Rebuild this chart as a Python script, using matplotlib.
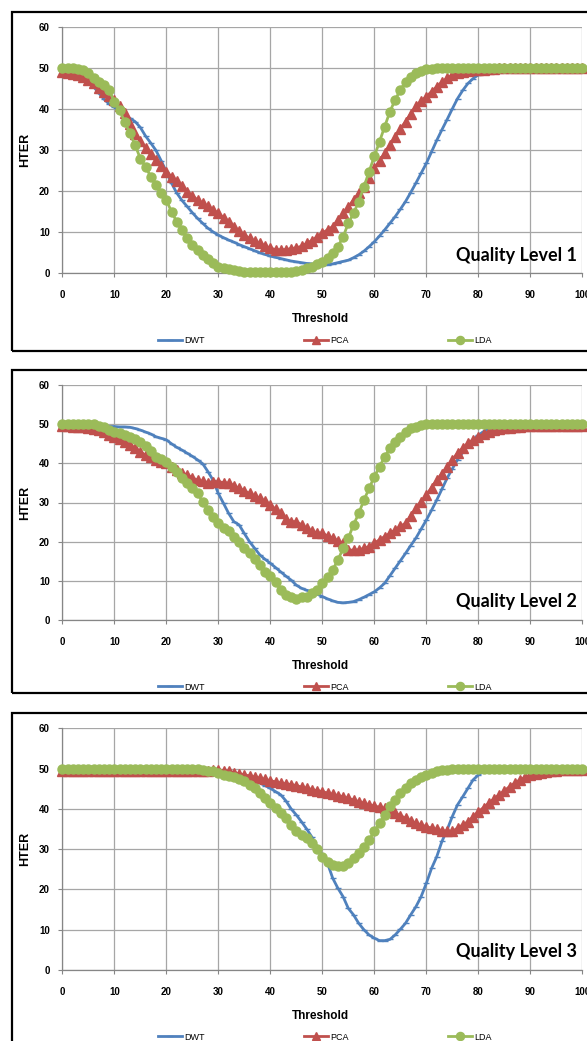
import matplotlib
matplotlib.use("Agg")
import matplotlib.pyplot as plt
from matplotlib.patches import Rectangle
import numpy as np

# threshold values 0..100
threshold = list(range(101))

# Quality level 1
dwt_q1 = [49.0, 48.8, 48.4, 47.9, 47.3, 46.7, 45.5, 44.0, 42.5, 41.3,
          40.5, 39.5, 38.6, 37.8, 37.0, 35.6, 33.5, 31.8, 30.0, 27.5,
          24.8, 22.0, 19.6, 17.8, 16.3, 14.8, 13.4, 12.2, 11.0, 10.1,
          9.3, 8.7, 8.1, 7.6, 7.0, 6.5, 6.0, 5.5, 5.0, 4.6,
          4.2, 3.9, 3.6, 3.3, 3.0, 2.8, 2.6, 2.4, 2.3, 2.1,
          2.0, 2.1, 2.3, 2.6, 2.9, 3.2, 3.8, 4.5, 5.4, 6.5,
          7.7, 9.1, 10.6, 12.2, 13.8, 15.6, 17.5, 19.7, 22.0, 24.4,
          26.8, 29.6, 32.4, 35.0, 37.5, 40.1, 42.6, 44.6, 46.3, 47.5,
          48.4, 49.1, 49.6, 49.8] + [50.0] * 17
pca_q1 = [49.0, 48.9, 48.7, 48.4, 47.9, 47.2, 46.3, 45.3, 44.3, 43.3,
          42.3, 40.8, 39.0, 36.5, 34.0, 32.2, 30.5, 29.0, 27.6, 26.2,
          24.8, 23.6, 22.4, 21.2, 19.9, 18.9, 17.9, 17.1, 16.3, 15.5,
          14.6, 13.6, 12.6, 11.4, 10.2, 9.3, 8.5, 7.9, 7.3, 6.7,
          6.1, 5.8, 5.7, 5.8, 6.0, 6.2, 6.6, 7.3, 8.0, 8.9,
          9.8, 10.6, 11.4, 13.0, 14.6, 16.2, 17.9, 19.5, 21.1, 23.3,
          25.6, 27.4, 29.3, 31.3, 33.3, 35.2, 37.0, 38.9, 40.7, 42.0,
          43.1, 44.3, 45.5, 46.6, 47.6, 48.3, 48.8, 49.1, 49.3, 49.5,
          49.6, 49.7, 49.8, 49.9] + [50.0] * 17
lda_q1 = [50.0, 50.0, 50.0, 49.9, 49.5, 48.8, 47.6, 46.7, 45.9, 44.7,
          41.9, 39.8, 37.0, 34.1, 31.3, 28.0, 26.0, 23.6, 21.5, 19.5,
          17.9, 15.0, 12.6, 10.6, 8.5, 6.9, 5.7, 4.5, 3.4, 2.4,
          1.6, 1.2, 1.0, 0.8, 0.6, 0.4, 0.3, 0.25, 0.2, 0.2,
          0.2, 0.2, 0.25, 0.3, 0.4, 0.5, 0.8, 1.2, 1.6, 2.2,
          2.8, 3.8, 4.9, 6.5, 8.9, 12.2, 14.6, 17.5, 21.1, 24.8,
          28.5, 32.1, 35.8, 39.4, 42.3, 44.7, 46.7, 48.0, 48.8, 49.4,
          49.8, 49.9] + [50.0] * 29

# Quality level 2
dwt_q2 = [49.5, 49.5, 49.5, 49.5, 49.5, 49.6, 49.6, 49.5, 49.5, 49.4,
          49.4, 49.3, 49.3, 49.2, 48.9, 48.5, 48.0, 47.5, 46.8, 46.4,
          46.0, 45.0, 44.1, 43.4, 42.6, 41.8, 40.9, 39.9, 37.9, 35.7,
          32.3, 29.8, 27.2, 25.1, 24.3, 22.1, 20.0, 18.3, 16.6, 15.5,
          14.5, 13.4, 12.3, 11.2, 10.2, 8.9, 8.1, 7.6, 7.2, 6.6,
          6.0, 5.4, 4.9, 4.5, 4.4, 4.5, 4.7, 5.2, 5.8, 6.5,
          7.2, 8.2, 9.4, 11.3, 13.2, 15.1, 17.0, 19.0, 20.9, 23.2,
          25.5, 28.0, 30.6, 33.4, 36.2, 38.6, 40.9, 42.8, 44.7, 46.0,
          47.2, 48.1, 48.9, 49.4, 49.8] + [50.0] * 16
pca_q2 = [49.5, 49.5, 49.4, 49.4, 49.2, 48.9, 48.7, 48.5, 47.9, 47.2,
          46.8, 46.1, 45.5, 44.6, 43.8, 42.9, 42.1, 41.5, 40.9, 40.4,
          40.0, 39.1, 38.3, 37.6, 37.0, 36.3, 35.7, 35.4, 35.1, 35.2,
          35.3, 35.1, 34.9, 34.3, 33.6, 33.0, 32.3, 31.7, 31.1, 30.3,
          29.4, 28.3, 27.2, 25.7, 25.1, 25.1, 24.3, 23.4, 22.6, 22.3,
          22.1, 21.5, 20.9, 20.2, 19.6, 17.9, 17.8, 17.9, 18.3, 18.7,
          19.6, 20.5, 21.3, 22.1, 23.0, 23.9, 24.7, 26.6, 28.5, 30.2,
          31.9, 33.8, 35.7, 37.4, 39.1, 40.9, 42.6, 43.9, 45.1, 46.0,
          46.8, 47.5, 48.1, 48.5, 48.8, 49.0, 49.1, 49.3, 49.4] + [49.5] * 12
lda_q2 = [50.0, 50.0, 50.0, 50.0, 50.0, 50.0, 50.0, 49.6, 49.4, 48.5,
          48.1, 47.7, 47.2, 46.8, 46.2, 45.5, 44.3, 43.2, 41.7, 41.1,
          40.4, 39.1, 37.9, 36.2, 34.9, 33.6, 32.3, 30.2, 28.1, 26.4,
          24.7, 23.4, 22.6, 21.3, 20.0, 18.3, 17.0, 15.7, 14.0, 12.3,
          11.2, 9.8, 7.7, 6.4, 6.0, 5.3, 6.0, 6.0, 6.8, 7.7,
          9.4, 11.1, 12.8, 15.3, 18.3, 20.9, 24.3, 27.2, 30.6, 33.6,
          36.6, 39.1, 41.7, 43.8, 45.5, 46.8, 48.1, 48.9, 49.4, 49.7] + [50.0] * 31

# Quality level 3
dwt_q3 = [50.0] * 26 + [
          49.9, 49.8, 49.7, 49.6,
          49.4, 49.2, 49.0, 48.7, 48.3, 48.0, 47.6, 47.0, 46.4, 45.8,
          45.1, 44.3, 43.5, 42.0, 40.0, 38.5, 36.8, 35.0, 33.0, 30.6,
          28.5, 26.5, 22.8, 20.3, 18.2, 15.3, 13.7, 11.6, 10.0, 8.7,
          7.9, 7.3, 7.3, 7.6, 8.7, 10.1, 11.6, 13.7, 15.7, 18.2,
          21.5, 25.2, 28.1, 31.9, 34.8, 38.1, 41.0, 43.0, 45.1, 47.2,
          48.4, 49.3, 49.8] + [50.0] * 18
pca_q3 = [49.5] * 29 + [
          49.6,
          49.7, 49.5, 49.3, 49.0, 48.7, 48.4, 48.2, 47.9, 47.6, 47.3,
          47.0, 46.7, 46.4, 46.2, 46.0, 45.8, 45.4, 45.1, 44.8, 44.5,
          44.3, 43.9, 43.6, 43.3, 43.0, 42.6, 42.2, 41.8, 41.4, 41.0,
          40.7, 40.4, 40.1, 39.5, 38.9, 38.3, 37.7, 37.0, 36.4, 36.0,
          35.6, 35.2, 34.9, 34.6, 34.4, 34.4, 35.2, 36.0, 36.8, 38.0,
          39.3, 40.3, 41.4, 42.5, 43.5, 44.5, 45.5, 46.4, 47.2, 47.8,
          48.4, 48.7, 49.0, 49.2, 49.4, 49.5] + [49.7] * 5
lda_q3 = [50.0] * 26 + [
          49.9, 49.7, 49.5, 49.3,
          48.9, 48.4, 48.1, 47.8, 47.3, 46.8, 45.9, 45.1, 43.9, 42.6,
          41.4, 40.1, 38.9, 37.7, 36.0, 34.6, 33.5, 32.7, 31.5, 30.0,
          28.1, 26.7, 26.1, 25.7, 25.7, 26.5, 27.7, 29.0, 30.6, 32.3,
          34.4, 36.4, 38.5, 40.6, 42.2, 43.9, 45.1, 46.4, 47.2, 47.8,
          48.4, 49.0, 49.4, 49.6, 49.7, 49.8, 49.8, 49.8, 49.8, 49.8] + [50.0] * 21

labels = ["DWT", "PCA", "LDA"]
panel_titles = ["Quality Level 1", "Quality Level 2", "Quality Level 3"]
yticks = [0, 10, 20, 30, 40, 50, 60]
xticks = [0, 10, 20, 30, 40, 50, 60, 70, 80, 90, 100]

W, H = 587, 1041
fig = plt.figure(figsize=(W / 100, H / 100), dpi=100)
fig.patch.set_facecolor("white")


def fx(px):
    return px / W


def fy(py):
    return 1 - py / H


def draw_panel(box_top, box_bot, y60, y0, dwt, pca, lda, title):
    # outer chart border (runs off the right edge like the original crop)
    fig.add_artist(Rectangle((fx(12), fy(box_bot)), fx(W + 20), fy(box_top) - fy(box_bot),
                             transform=fig.transFigure, fill=False,
                             edgecolor="black", lw=1.6, zorder=0))
    left, right = 62.3, 582.3
    ax = fig.add_axes([fx(left), fy(y0), fx(right - left), (y0 - y60) / H])
    ax.plot(threshold, dwt, color="#4F81BD", lw=2.0, marker="_", ms=5, mew=1.0,
            label=labels[0], clip_on=False, zorder=3)
    ax.plot(threshold, pca, color="#C0504D", lw=2.0, marker="^", ms=6.5,
            label=labels[1], clip_on=False, zorder=4)
    ax.plot(threshold, lda, color="#9BBB59", lw=2.0, marker="o", ms=6.5,
            label=labels[2], clip_on=False, zorder=5)
    ax.set_xlim(0, 100)
    ax.set_ylim(0, 60)
    ax.set_xticks(xticks)
    ax.set_yticks(yticks)
    ax.grid(True, color="#a6a6a6", lw=0.9)
    ax.set_axisbelow(True)
    for s in ["top", "right"]:
        ax.spines[s].set_visible(False)
    for s in ["left", "bottom"]:
        ax.spines[s].set_color("#868686")
        ax.spines[s].set_linewidth(0.9)
    ax.tick_params(axis="both", length=3, color="#868686", labelsize=7)
    ax.tick_params(axis="x", pad=9)
    ax.tick_params(axis="y", pad=6)
    for t in ax.get_xticklabels() + ax.get_yticklabels():
        t.set_fontweight("bold")
        t.set_family("Liberation Sans")
    fig.text(fx(25), fy((y60 + y0) / 2), "HTER", rotation=90, ha="center", va="center",
             fontsize=9, fontweight="bold", family="Liberation Sans")
    fig.text(fx(320), fy(y0 + 46), "Threshold", ha="center", va="center",
             fontsize=8.5, fontweight="bold", family="Liberation Sans")
    fig.text(fx(577), fy(y0 - 18), title, ha="right", va="center",
             fontsize=13, fontweight="bold", family=["Liberation Sans Narrow", "Lato"])
    ax.legend(loc="center", bbox_to_anchor=(0.505, -67 / (y0 - y60)),
              ncol=3, frameon=False, handlelength=2.7,
              handletextpad=0.2, columnspacing=11.0, markerscale=0.9,
              prop={"family": "Liberation Sans", "size": 6.5})
    return ax


draw_panel(12, 350.7, 27.3, 273.3, dwt_q1, pca_q1, lda_q1, panel_titles[0])
draw_panel(370, 693, 385, 620, dwt_q2, pca_q2, lda_q2, panel_titles[1])
draw_panel(713, 1060, 728.3, 970, dwt_q3, pca_q3, lda_q3, panel_titles[2])

fig.savefig("out.png", dpi=100)
